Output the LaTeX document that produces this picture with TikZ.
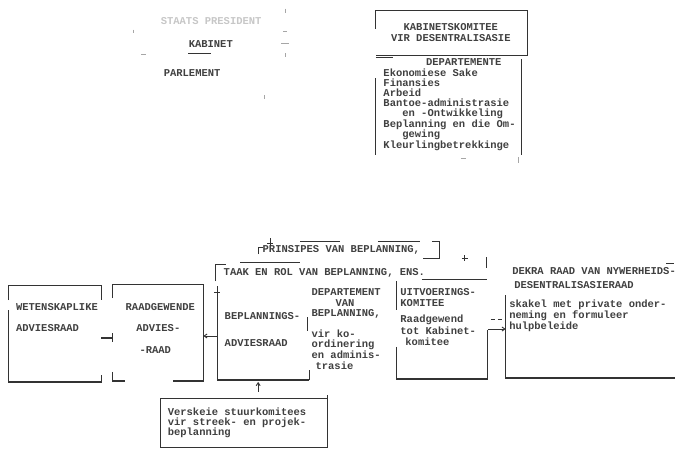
\documentclass[tikz,border=0pt]{standalone}
\usepackage{fontspec}
\setmonofont{Liberation Mono}
\usetikzlibrary{arrows.meta,calc}
\begin{document}
\begin{tikzpicture}[x=1pt,y=-1pt,
  line width=1.1pt, every path/.style={draw=black!80},
  tx/.style={font=\ttfamily\bfseries\fontsize{10.5}{12}\selectfont, inner sep=0pt, anchor=west, text=black!75},
  txc/.style={tx, anchor=center},
  faint/.style={tx, text=black!22},
  boxn/.style={draw=none, inner sep=0pt, anchor=north west},
  arr/.style={-{Straight Barb[length=3pt,width=4pt]}, line width=0.9pt},
  tick/.style={line width=0.8pt, draw=black!35}]
\useasboundingbox (0,0) rectangle (675,449);
\fill[white] (0,0) rectangle (675,449);

% ---------- top left ----------
\node[faint] (staat) at (160,21) {STAATS PRESIDENT};
\node[tx] (kabinet) at (188,44) {KABINET};
\node[tx] (parlement) at (163,73) {PARLEMENT};
\draw[line width=0.9pt] (kabinet.south west)+(0,5) -- +(23,5);
\draw[tick] (285,8)--(285,12) (283,31)--(287,31) (281,43)--(289,43) (285,53)--(285,57)
            (133,29)--(133,33) (141,54)--(146,54) (264,95)--(264,99);

% ---------- top right ----------
\node[boxn, minimum width=151, minimum height=44] (kab) at (376,10) {};
\draw (kab.west |- 0,28) -- (kab.north west) -- (kab.north east) -- (kab.south east) -- (kab.south west);
\node[txc] (kabt1) at (451,27) {KABINETSKOMITEE};
\node[txc] (kabt2) at (451,38) {VIR DESENTRALISASIE};

\node[boxn, minimum width=146, minimum height=98] (dept) at (376,57) {};
\draw (376,57) -- (393,57);
\draw (376,78) -- (376,155);
\draw[line width=0.8pt] (522,59) -- (522,155);
\node[txc] (deptt) at (464,62) {DEPARTEMENTE};
\node[tx] (d1) at (383,72) {Ekonomiese Sake};
\node[tx] (d2) at (383,82) {Finansies};
\node[tx] (d3) at (383,92) {Arbeid};
\node[tx] (d4) at (383,102.5) {Bantoe-administrasie};
\node[tx] (d5) at (383,113) {\ \ \ en -Ontwikkeling};
\node[tx] (d6) at (383,124.5) {Beplanning en die Om-};
\node[tx] (d7) at (383,134.5) {\ \ \ gewing};
\node[tx] (d8) at (383,145.5) {Kleurlingbetrekkinge};
\draw[tick] (461,158)--(466,158) (519,157)--(519,163);

% ---------- prinsipes / taak rows ----------
\node[tx] (prins) at (262,250) {PRINSIPES VAN BEPLANNING,};
\draw (258,254) -- (258,247) -- (263,247);
\draw[line width=0.8pt] (267,243) -- (273,243) (270,238) -- (270,246);
\draw (300,241) -- (340,241) (378,241) -- (420,241);
\draw (432,241) -- (440,241) -- (440,258) -- (423,258);
\draw (240,262) -- (300,262);
\draw[line width=0.8pt] (462,258) -- (468,258) (465,255) -- (465,261);
\draw (487,257) -- (487,268);

\node[tx] (taak) at (223,273) {TAAK EN ROL VAN BEPLANNING, ENS.};
\draw (215,281) -- (215,264) -- (226,264);
\draw (422,279) -- (487,279);

% ---------- bottom row boxes ----------
\node[boxn, minimum width=92, minimum height=96] (wet) at (8,285) {};
\draw (wet.south west |- 0,300) -- (wet.north west) -- (wet.north east) -- (wet.east |- 0,300);
\draw (wet.west |- 0,310) -- (wet.south west) -- (wet.south east) -- (wet.east |- 0,375);
\node[tx] (wet1) at (15,307) {WETENSKAPLIKE};
\node[tx] (wet2) at (15,328) {ADVIESRAAD};

\node[boxn, minimum width=90, minimum height=96] (raad) at (112,284) {};
\draw (raad.west |- 0,298) -- (raad.north west) -- (raad.north east) -- (raad.south east) -- (raad.south east -| 173,0);
\draw (raad.west |- 0,372) -- (raad.south west) -- (raad.south west -| 125,0);
\node[txc] (raad1) at (160,307) {RAADGEWENDE};
\node[txc] (raad2) at (158,328) {ADVIES-};
\node[txc] (raad3) at (155,350) {-RAAD};

\coordinate (wr) at ($(wet.north east)+(0,53)$);
\draw (wr) -- (wr -| raad.west);
\draw ($(raad.north west)+(0,49)$) -- ($(raad.north west)+(0,58)$);

\node[boxn, minimum width=91, minimum height=114] (bepl) at (217,265) {};
\draw (bepl.west |- 0,286) -- (bepl.south west) -- (bepl.south east);
\draw[line width=0.8pt] (214,292) -- (220,292);
\node[tx] (bepl1) at (224,316) {BEPLANNINGS-};
\node[tx] (bepl2) at (224,343) {ADVIESRAAD};
\draw (307,317) -- (307,331);
\draw (bepl.south east) -- +(0,-10);
\draw[arr] ($(bepl.north west)+(0,71)$) -- ($(raad.north east)+(0,52)$);

\node[tx] (dep1) at (311,292) {DEPARTEMENT};
\node[txc] (dep2) at (345,302.5) {VAN};
\node[tx] (dep3) at (311,314) {BEPLANNING,};
\node[tx] (dep4) at (311,334) {vir ko-};
\node[tx] (dep5) at (311,344.5) {ordinering};
\node[tx] (dep6) at (311,355) {en adminis-};
\node[tx] (dep7) at (315,365.5) {trasie};

\node[boxn, minimum width=90, minimum height=99] (onder) at (397,279) {};
\draw (onder.west |- 0,281) -- (onder.west |- 0,310);
\draw (onder.west |- 0,347) -- (onder.south west) -- (onder.south east) -- (onder.east |- 0,330);
\node[tx] (on1) at (400,292) {UITVOERINGS-};
\node[tx] (on2) at (400,302.5) {KOMITEE};
\node[tx] (on3) at (400,320) {Raadgewend};
\node[tx] (on4) at (400,331) {tot Kabinet-};
\node[tx] (on5) at (405,342) {komitee};

\node[boxn, minimum width=169, minimum height=114] (nyw) at (506,263) {};
\draw (nyw.west |- 0,295) -- (nyw.south west) -- (nyw.south east);
\draw (667,263) -- (675,263);
\node[tx] (ny1) at (512,271) {DEKRA RAAD VAN NYWERHEIDS-};
\node[tx] (ny2) at (514,285) {DESENTRALISASIERAAD};
\node[tx] (ny3) at (509,305) {skakel met private onder-};
\node[tx] (ny4) at (509,316) {neming en formuleer};
\node[tx] (ny5) at (509,327) {hulpbeleide};
\draw[arr] ($(onder.north east)+(0,50)$) -- ($(nyw.north west)+(0,66)$);
\draw[line width=0.9pt, dash pattern=on 4pt off 3pt] ($(onder.north east)+(3,40)$) -- ($(nyw.north west)+(-2,56)$);

\node[boxn, minimum width=166, minimum height=48] (versk) at (160,399) {};
\draw (versk.north west) -- (versk.north east) -- (versk.south east) -- (versk.south west) -- cycle;
\draw (versk.north east) -- +(0,-4);
\node[tx] (ve1) at (167,412) {Verskeie stuurkomitees};
\node[tx] (ve2) at (167,422.5) {vir streek- en projek-};
\node[tx] (ve3) at (167,433) {beplanning};
\draw[arr] (258,392) -- (258,382);
\end{tikzpicture}
\end{document}
